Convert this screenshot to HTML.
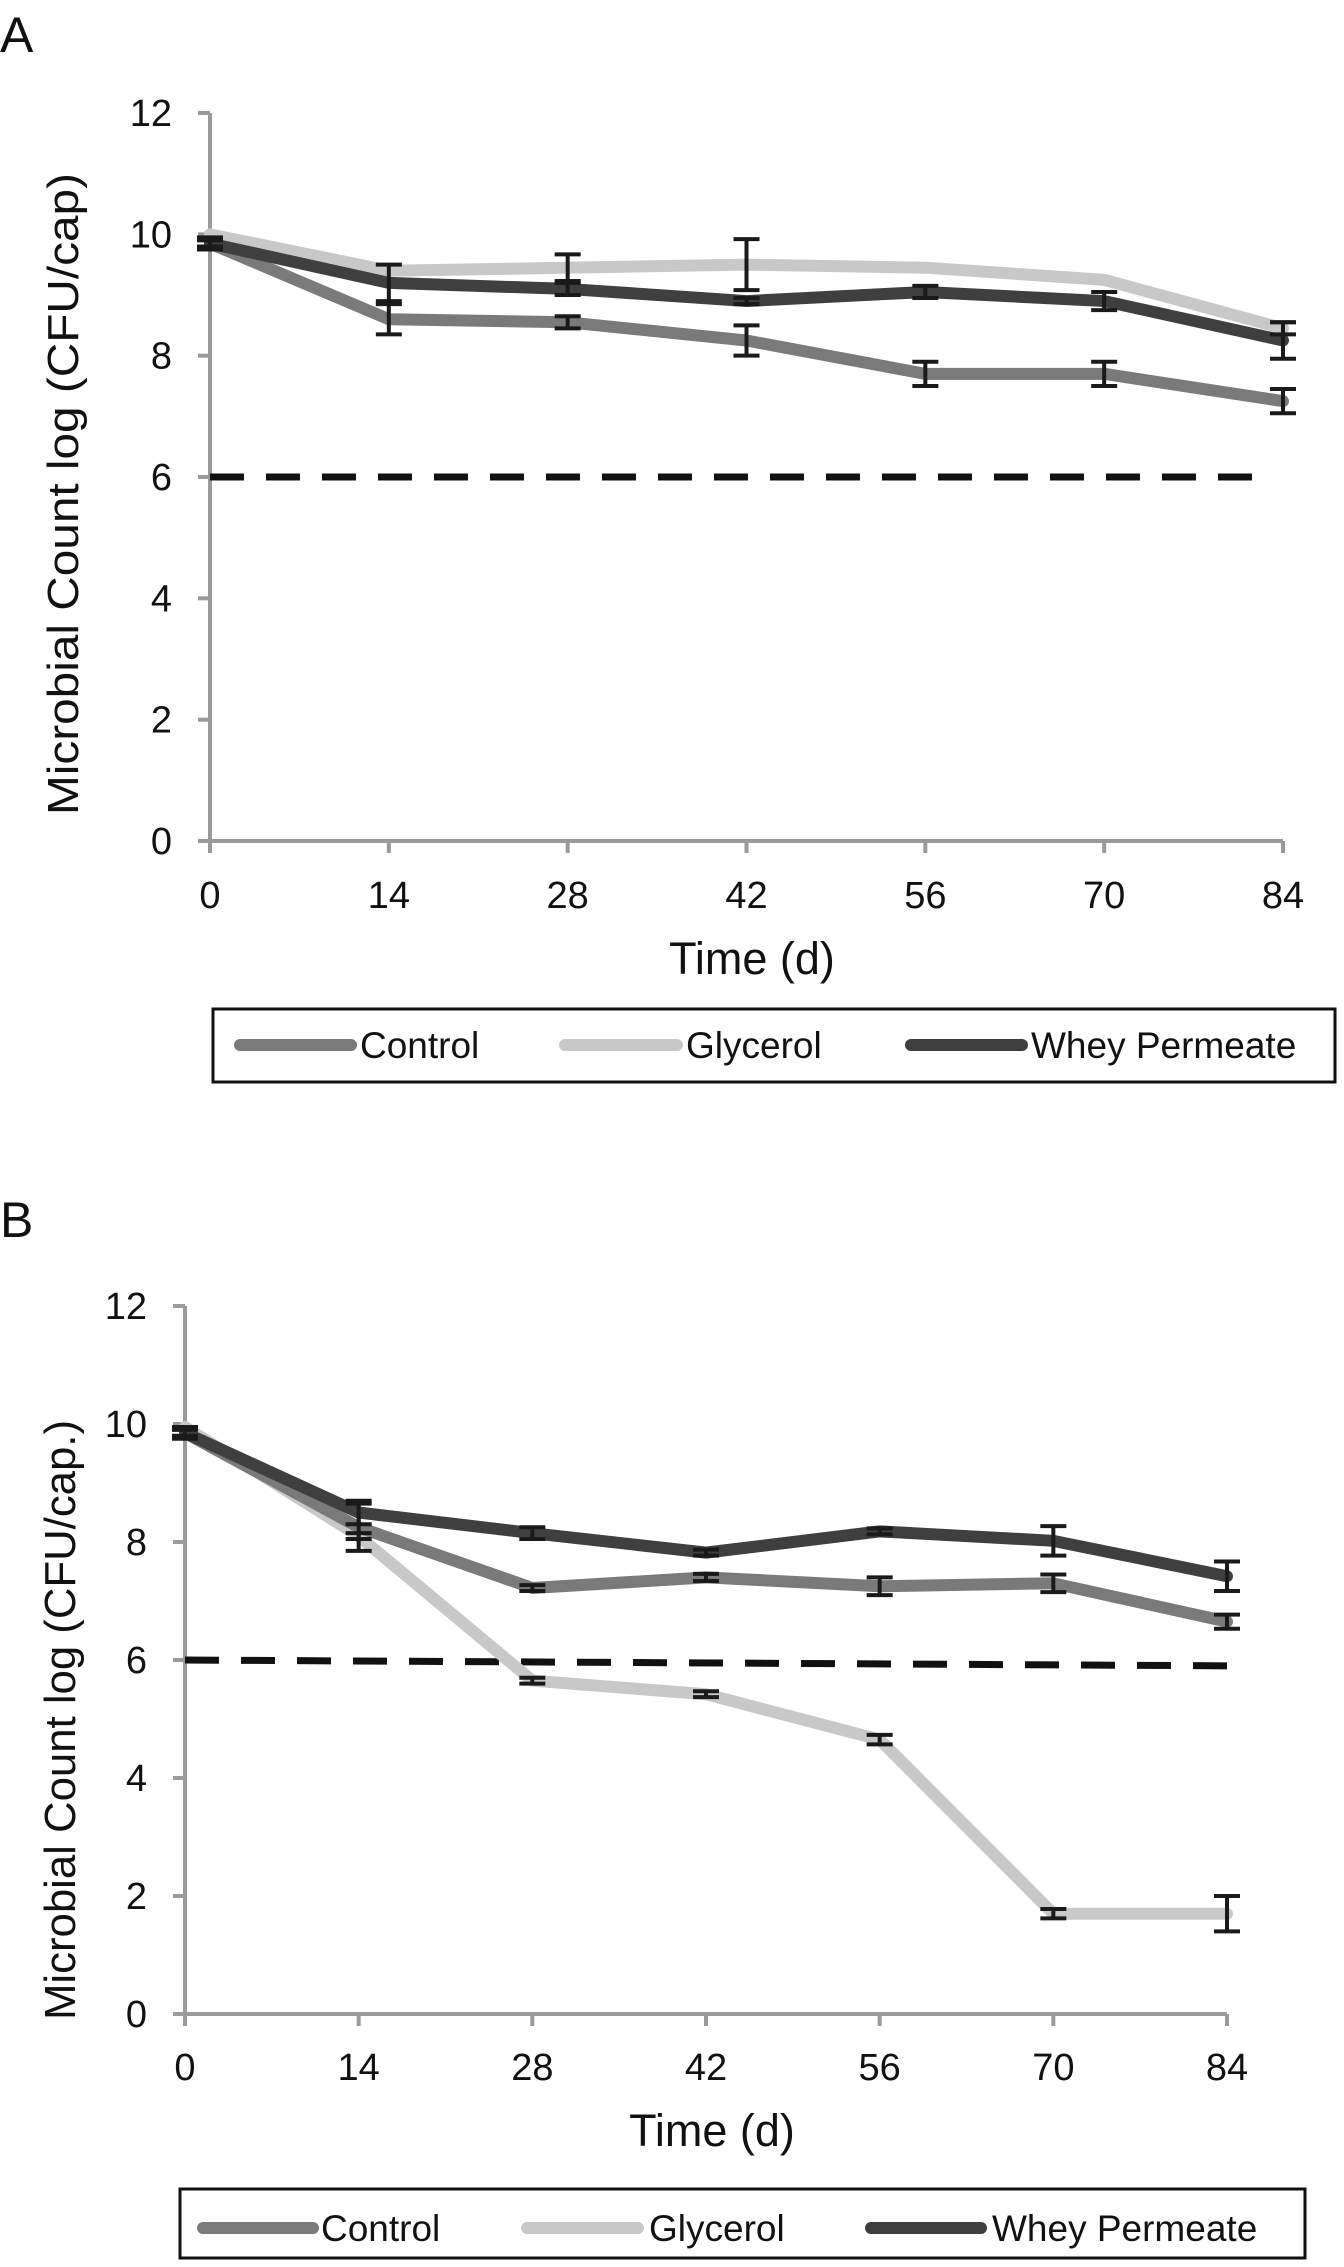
<!DOCTYPE html>
<html><head><meta charset="utf-8"><style>
html,body{margin:0;padding:0;background:#fff;}
svg{display:block;font-family:"Liberation Sans",Arial,sans-serif;}
</style></head><body>
<svg id="fig" width="1344" height="2267" viewBox="0 0 1344 2267"></svg>
<script>
const days = [0,14,28,42,56,70,84];
const yTicks = [0,2,4,6,8,10,12];
const aControl = [9.85,8.6,8.55,8.25,7.7,7.7,7.25];
const aControlErr = [0.05,0.25,0.1,0.25,0.2,0.2,0.2];
const aGlycerol = [10.0,9.4,9.45,9.5,9.45,9.25,8.45];
const aGlycerolErr = [0,0,0.22,0.42,0,0,0.1];
const aWhey = [9.85,9.2,9.1,8.9,9.05,8.9,8.25];
const aWheyErr = [0.1,0.3,0.1,0.05,0.1,0.15,0.3];
const aThreshold = [6,6];
const bControl = [9.85,8.25,7.22,7.4,7.25,7.3,6.65];
const bControlErr = [0.05,0.4,0.05,0.06,0.15,0.15,0.12];
const bGlycerol = [9.95,8.1,5.65,5.42,4.65,1.7,1.7];
const bGlycerolErr = [0,0.05,0.05,0.05,0.08,0.08,0.3];
const bWhey = [9.85,8.5,8.15,7.82,8.18,8.02,7.42];
const bWheyErr = [0.1,0.2,0.1,0.05,0.05,0.25,0.25];
const bThreshold = [6.0,5.9];

const NS="http://www.w3.org/2000/svg";
const svg=document.getElementById('fig');
function mk(tag,attrs,parent){const e=document.createElementNS(NS,tag);for(const k in attrs)e.setAttribute(k,attrs[k]);(parent||svg).appendChild(e);return e;}

function panel(cfg){
  const g=mk('g',{});
  
  
  const X=d=>cfg.x0+(d-0)/84*(cfg.x1-cfg.x0);
  const Y=v=>cfg.y0-(v/12)*(cfg.y0-cfg.y12);
  const lab=mk('text',{x:0,y:cfg.labelY,'font-size':50,fill:'#111'},g);lab.textContent=cfg.letter;
  
  
  const ax=mk('path',{d:`M${X(0)},${Y(12)}V${Y(0)}H${X(84)}`,stroke:'#9a9a9a','stroke-width':4,fill:'none'},g);
  
  
  yTicks.forEach(t=>{
    mk('line',{x1:X(0)-12,x2:X(0),y1:Y(t),y2:Y(t),stroke:'#9a9a9a','stroke-width':4},g);
    const tx=mk('text',{x:X(0)-38,y:Y(t)+13,'font-size':38,'text-anchor':'end',fill:'#111'},g);tx.textContent=t;
    
    
  });
  days.forEach(d=>{
    mk('line',{x1:X(d),x2:X(d),y1:Y(0),y2:Y(0)+12,stroke:'#9a9a9a','stroke-width':4},g);
    const tx=mk('text',{x:X(d),y:cfg.xLabelY,'font-size':38,'text-anchor':'middle',fill:'#111'},g);tx.textContent=d;
    
    
  });
  const xt=mk('text',{x:cfg.xTitleX,y:cfg.xTitleY,'font-size':45,'text-anchor':'middle',fill:'#111'},g);xt.textContent='Time (d)';
  
  
  const yt=mk('text',{x:0,y:0,'font-size':44,'text-anchor':'middle',fill:'#111',textLength:cfg.yTitleLen,lengthAdjust:'spacingAndGlyphs',transform:`translate(${cfg.yTitleX},${cfg.yTitleY}) rotate(-90)`},g);yt.textContent=cfg.yTitle;
  
  
  const th=mk('line',{x1:X(0),x2:cfg.dashEnd,y1:Y(cfg.th[0]),y2:Y(cfg.th[1]),stroke:'#111','stroke-width':7,'stroke-dasharray':'34 22'},g);
  
  
  const series=[['glycerol',cfg.gly,cfg.glyE,'#c8c8c8'],['control',cfg.ctl,cfg.ctlE,'#7a7a7a'],['whey-permeate',cfg.whey,cfg.wheyE,'#3f3f3f']];
  series.forEach(s=>{
    const p=mk('polyline',{points:s[1].map((v,i)=>X(days[i])+','+Y(v)).join(' '),stroke:s[3],'stroke-width':12,fill:'none','stroke-linejoin':'round','stroke-linecap':'round'},g);
    
    
  });
  series.forEach(s=>{
    s[1].forEach((v,i)=>{
      const e=s[2][i];if(!e)return;
      const x=X(days[i]),t=Y(v+e),b=Y(v-e);
      const eb=mk('path',{d:`M${x},${t}V${b}M${x-13},${t}H${x+13}M${x-13},${b}H${x+13}`,stroke:'#1a1a1a','stroke-width':4,fill:'none'},g);
      
      
    });
  });
  const lg=mk('g',{},g);
  
  
  mk('rect',{x:cfg.lb[0],y:cfg.lb[1],width:cfg.lb[2],height:cfg.lb[3],fill:'#fff',stroke:'#111','stroke-width':3},lg);
  const names=['Control','Glycerol','Whey Permeate'],cols=['#7a7a7a','#c8c8c8','#3f3f3f'];
  cfg.le.forEach((e,i)=>{
    const li=mk('line',{x1:e[0],x2:e[1],y1:cfg.ly,y2:cfg.ly,stroke:cols[i],'stroke-width':12,'stroke-linecap':'round'},lg);
    
    
    const tx=mk('text',{x:e[2],y:cfg.ly+13,'font-size':37,fill:'#111'},lg);tx.textContent=names[i];
    
    
  });
}
panel({name:'panel-a',letter:'A',labelY:52,x0:210,x1:1283,y0:841,y12:113,xLabelY:908,xTitleX:752,xTitleY:974,
  yTitle:'Microbial Count log (CFU/cap)',yTitleX:78,yTitleY:494,yTitleLen:642,th:aThreshold,dashEnd:1256,
  gly:aGlycerol,glyE:aGlycerolErr,ctl:aControl,ctlE:aControlErr,whey:aWhey,wheyE:aWheyErr,
  lb:[213,1009,1122,73],ly:1045,le:[[240,351,360],[565,677,686],[911,1022,1031]]});
panel({name:'panel-b',letter:'B',labelY:1237,x0:185,x1:1227,y0:2014,y12:1306,xLabelY:2080,xTitleX:712,xTitleY:2146,
  yTitle:'Microbial Count log (CFU/cap.)',yTitleX:75,yTitleY:1720,yTitleLen:600,th:bThreshold,dashEnd:1240,
  gly:bGlycerol,glyE:bGlycerolErr,ctl:bControl,ctlE:bControlErr,whey:bWhey,wheyE:bWheyErr,
  lb:[180,2189,1125,69],ly:2228,le:[[203,313,321],[527,638,649],[871,981,992]]});
</script>
</body></html>
